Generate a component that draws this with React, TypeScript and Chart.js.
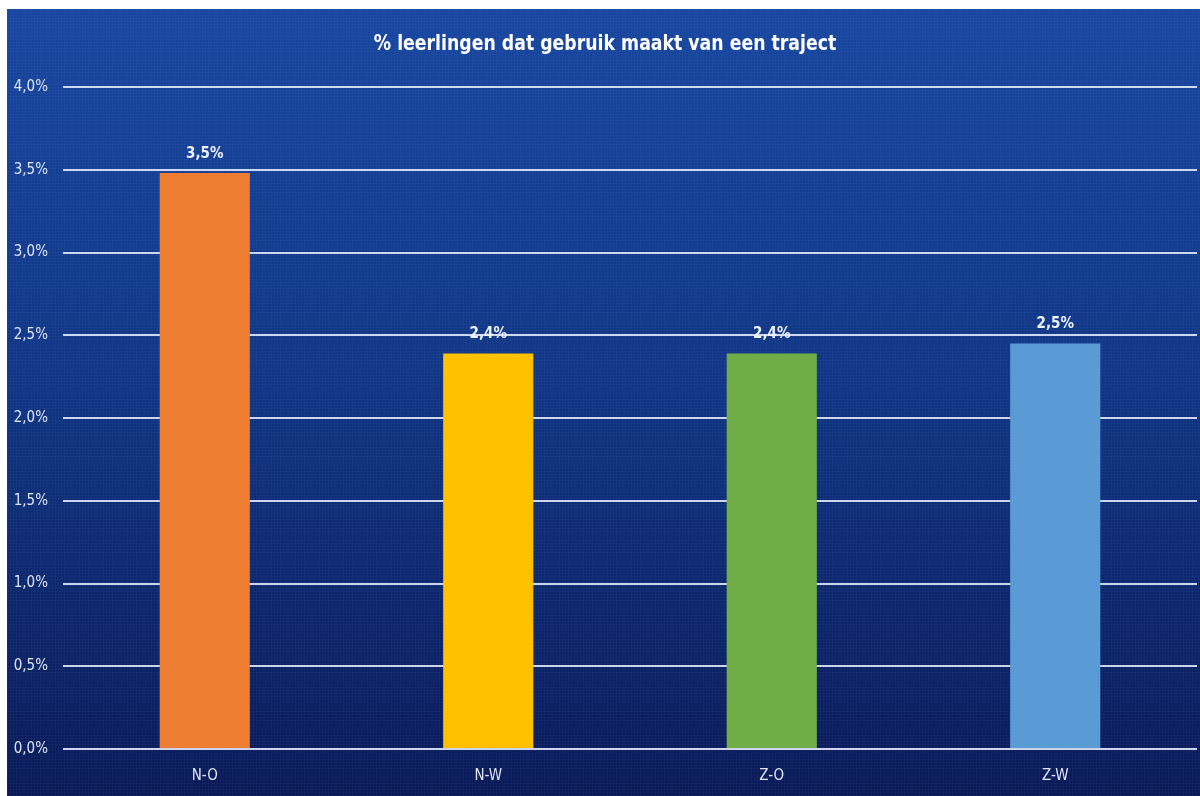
import React, { useEffect, useRef } from "react";
import { Chart, registerables } from "chart.js";

Chart.register(...registerables);

const title = "% leerlingen dat gebruik maakt van een traject";
const categories = ["N-O", "N-W", "Z-O", "Z-W"];
const values = [3.48, 2.39, 2.39, 2.45];
const valueLabels = ["3,5%", "2,4%", "2,4%", "2,5%"];
const barColors = ["#ED7D31", "#FFC000", "#70AD47", "#5B9BD5"];
const yMin = 0;
const yMax = 4;
const yStep = 0.5;

const FONT = "'Liberation Sans Narrow', 'DejaVu Sans Condensed', 'Open Sans', sans-serif";

const bgPlugin = {
  id: "bgPlugin",
  beforeDraw(chart: any) {
    const { ctx, width, height } = chart;
    ctx.save();
    const g = ctx.createLinearGradient(0, 0, 0, height);
    g.addColorStop(0, "#18469f");
    g.addColorStop(0.45, "#103684");
    g.addColorStop(1, "#091855");
    ctx.fillStyle = g;
    ctx.fillRect(0, 0, width, height);
    ctx.fillStyle = "rgba(120,160,230,0.06)";
    for (let x = 0; x < width; x += 3) ctx.fillRect(x, 0, 1, height);
    for (let y = 0; y < height; y += 3) ctx.fillRect(0, y, width, 1);
    ctx.fillStyle = "#ffffff";
    ctx.font = `bold 22px ${FONT}`;
    ctx.textAlign = "center";
    ctx.textBaseline = "middle";
    ctx.translate(598, 35);
    ctx.scale(0.875, 1);
    ctx.fillText(title, 0, 0);
    ctx.restore();
  },
  afterDatasetsDraw(chart: any) {
    const { ctx } = chart;
    const meta = chart.getDatasetMeta(0);
    ctx.save();
    ctx.fillStyle = "#eef2fb";
    ctx.font = `bold 15px ${FONT}`;
    ctx.textAlign = "center";
    ctx.textBaseline = "middle";
    meta.data.forEach((el: any, i: number) => {
      ctx.fillText(valueLabels[i], el.x, el.y - 19);
    });
    ctx.restore();
  },
};

export default function App() {
  const ref = useRef<HTMLCanvasElement | null>(null);
  useEffect(() => {
    if (!ref.current) return;
    const chart = new Chart(ref.current, {
      type: "bar",
      data: {
        labels: categories,
        datasets: [
          {
            data: values,
            backgroundColor: barColors,
            borderWidth: 0,
            categoryPercentage: 1,
            barPercentage: 0.318,
          },
        ],
      },
      options: {
        animation: false,
        responsive: true,
        maintainAspectRatio: false,
        layout: { padding: { top: 78, right: 3, left: 0, bottom: 0 } },
        plugins: {
          legend: { display: false },
          tooltip: { enabled: false },
          title: { display: false },
        },
        scales: {
          x: {
            grid: { display: false, drawTicks: false },
            border: { display: false },
            ticks: {
              color: "#dfe5f3",
              font: { family: FONT, size: 15 },
              padding: 18,
            },
            afterFit(scale: any) {
              scale.height = 47;
            },
          },
          y: {
            min: yMin,
            max: yMax,
            grid: {
              color: "rgba(225,232,250,0.9)",
              lineWidth: 2,
              drawTicks: false,
            },
            border: { display: false },
            ticks: {
              stepSize: yStep,
              color: "#dfe5f3",
              font: { family: FONT, size: 15 },
              padding: 15,
              callback: (v: any) => Number(v).toFixed(1).replace(".", ",") + "%",
            },
            afterFit(scale: any) {
              scale.width = 56;
            },
          },
        },
      },
      plugins: [bgPlugin],
    });
    return () => chart.destroy();
  }, []);
  return (
    <div style={{ position: "fixed", left: 7, top: 9, width: 1193, height: 787 }}>
      <canvas ref={ref} />
    </div>
  );
}
